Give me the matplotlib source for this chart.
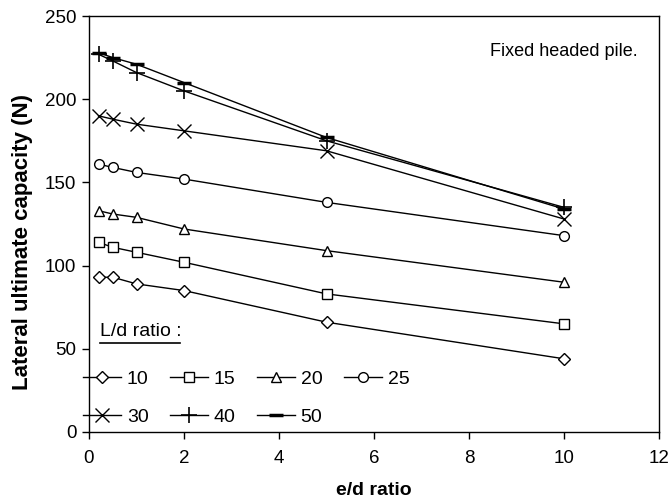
import matplotlib
matplotlib.use('Agg')
import matplotlib.pyplot as plt
from matplotlib.lines import Line2D

plt.rcParams['font.family'] = ['Liberation Sans', 'DejaVu Sans']

# e/d ratio of the load
ED_RATIO = [0.2, 0.5, 1, 2, 5, 10]

# Lateral ultimate capacity (N) for each L/d ratio
CAP_10 = [93, 93, 89, 85, 66, 44]
CAP_15 = [114, 111, 108, 102, 83, 65]
CAP_20 = [133, 131, 129, 122, 109, 90]
CAP_25 = [161, 159, 156, 152, 138, 118]
CAP_30 = [190, 188, 185, 181, 169, 128]
CAP_40 = [227, 223, 216, 205, 175, 135]
CAP_50 = [228, 225, 221, 210, 177, 134]

LD_LABELS = ['10', '15', '20', '25', '30', '40', '50']

series = [
    (CAP_10, 'D', 6.0, 1.0),
    (CAP_15, 's', 6.5, 1.0),
    (CAP_20, '^', 7.5, 1.0),
    (CAP_25, 'o', 7.0, 1.0),
    (CAP_30, 'x', 10.0, 1.0),
    (CAP_40, '+', 11.0, 1.2),
    (CAP_50, '_', 10.0, 2.5),
]

fig = plt.figure(figsize=(6.72, 5.01), dpi=100)
ax = fig.add_axes([89 / 672, 1 - 432 / 501, 570 / 672, 416 / 501])

lines = []
for (vals, marker, ms, mew), label in zip(series, LD_LABELS):
    ln, = ax.plot(ED_RATIO, vals, color='black', linewidth=1.0, marker=marker,
                  markersize=ms, markeredgewidth=mew, markerfacecolor='white',
                  markeredgecolor='black', label=label)
    lines.append(ln)

ax.set_xlim(0, 12)
ax.set_ylim(0, 250)
ax.set_xticks(range(0, 13, 2))
ax.set_yticks(range(0, 251, 50))
ax.tick_params(direction='out', length=5, width=1, labelsize=13.5, pad=4)
ax.tick_params(axis='x', pad=8)
for s in ax.spines.values():
    s.set_linewidth(1.0)

ax.set_xlabel('e/d ratio', fontsize=14, fontweight='bold', labelpad=11)
ax.set_ylabel('Lateral ultimate capacity (N)', fontsize=16, fontweight='bold')
ax.yaxis.set_label_coords(-0.098, 0.457)

ax.text(638 / 672, 1 - 51 / 501, 'Fixed headed pile.', transform=fig.transFigure,
        ha='right', va='center', fontsize=13)

# legend title, underlined
fig.text(100 / 672, 1 - 332 / 501, 'L/d ratio :', fontsize=14, ha='left', va='center')
fig.add_artist(Line2D([100 / 672, 180 / 672], [1 - 343 / 501, 1 - 343 / 501],
                      transform=fig.transFigure, color='black', linewidth=1.2))

# legend fills column by column, so reorder to read row by row
order = [0, 4, 1, 5, 2, 6, 3]
ax.legend([lines[i] for i in order], [LD_LABELS[i] for i in order],
          loc='upper left', bbox_to_anchor=(83 / 672, 1 - 370 / 501),
          bbox_transform=fig.transFigure, ncol=4, frameon=False, fontsize=14,
          handlelength=1.95, handletextpad=0.3, columnspacing=1.1,
          labelspacing=1.05, borderpad=0, borderaxespad=0)

fig.savefig('out.png', dpi=100)
